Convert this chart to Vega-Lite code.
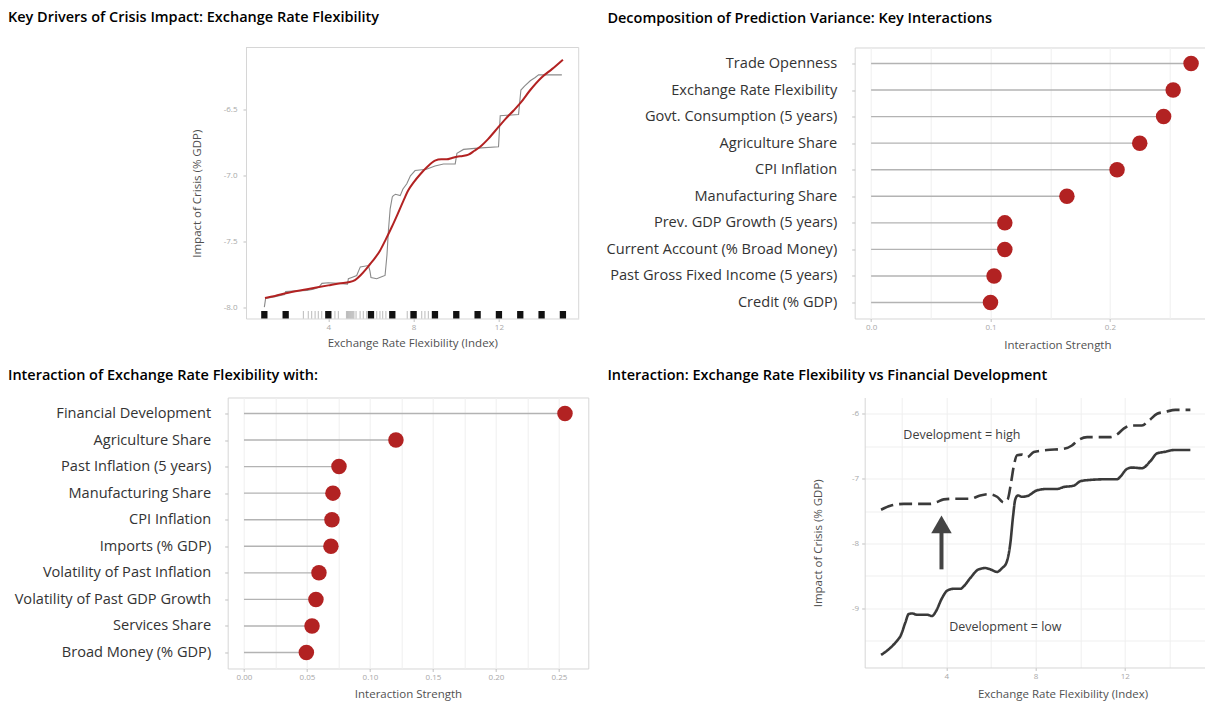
{
  "$schema": "https://vega.github.io/schema/vega-lite/v6.json",
  "autosize": {"type": "none"},
  "padding": {"left": 227.7, "top": 47.5, "right": 980, "bottom": 660},
  "background": "#ffffff",
  "columns": 2,
  "bounds": "flush",
  "align": "each",
  "spacing": {"row": 79, "column": 266},
  "config": {
    "font": "Open Sans",
    "locale": {"number": {"decimal": ".", "thousands": ",", "grouping": [3], "currency": ["$", ""], "minus": "-"}},
    "view": {"stroke": "#d6d6d6"},
    "axis": {"gridColor": "#efefef", "gridWidth": 1, "domain": false, "domainColor": "#d6d6d6", "tickColor": "#c0c0c0", "tickSize": 3, "labelColor": "#a8a8a8", "labelFontSize": 8, "labelPadding": 2, "titleColor": "#505050", "titleFontSize": 11.5, "titleFontWeight": "normal"},
    "title": {"anchor": "start", "frame": "group", "fontSize": 14.5, "fontWeight": 600, "color": "#000000", "offset": 0, "baseline": "middle"}
  },
  "datasets": {
    "border": [{}],
    "pdp": [
      {"x": 1.0, "y": -7.995}, {"x": 1.06, "y": -7.93}, {"x": 1.5, "y": -7.915}, {"x": 1.95, "y": -7.9}, {"x": 2.0, "y": -7.876},
      {"x": 2.5, "y": -7.872}, {"x": 3.0, "y": -7.868}, {"x": 3.3, "y": -7.86}, {"x": 3.55, "y": -7.845}, {"x": 3.7, "y": -7.815},
      {"x": 4.0, "y": -7.81}, {"x": 4.5, "y": -7.815}, {"x": 4.9, "y": -7.82}, {"x": 4.94, "y": -7.78}, {"x": 5.1, "y": -7.77},
      {"x": 5.33, "y": -7.755}, {"x": 5.5, "y": -7.69}, {"x": 5.88, "y": -7.68}, {"x": 5.95, "y": -7.72}, {"x": 6.0, "y": -7.77},
      {"x": 6.27, "y": -7.78}, {"x": 6.5, "y": -7.765}, {"x": 6.66, "y": -7.755}, {"x": 6.75, "y": -7.6}, {"x": 6.82, "y": -7.41},
      {"x": 6.9, "y": -7.25}, {"x": 7.0, "y": -7.16}, {"x": 7.05, "y": -7.15}, {"x": 7.15, "y": -7.14}, {"x": 7.37, "y": -7.15},
      {"x": 7.5, "y": -7.1}, {"x": 7.68, "y": -7.06}, {"x": 7.85, "y": -7.0}, {"x": 8.07, "y": -6.96}, {"x": 8.6, "y": -6.95},
      {"x": 9.0, "y": -6.925}, {"x": 9.4, "y": -6.91}, {"x": 9.95, "y": -6.91}, {"x": 10.03, "y": -6.83}, {"x": 10.34, "y": -6.8},
      {"x": 11.0, "y": -6.79}, {"x": 11.98, "y": -6.78}, {"x": 12.06, "y": -6.545}, {"x": 12.92, "y": -6.535}, {"x": 13.03, "y": -6.35},
      {"x": 13.2, "y": -6.32}, {"x": 13.47, "y": -6.28}, {"x": 13.7, "y": -6.255}, {"x": 13.86, "y": -6.235}, {"x": 14.95, "y": -6.235}
    ],
    "smooth": [
      {"x": 1.03, "y": -7.925}, {"x": 1.5, "y": -7.91}, {"x": 2.0, "y": -7.89}, {"x": 3.0, "y": -7.86}, {"x": 4.0, "y": -7.83},
      {"x": 4.5, "y": -7.815}, {"x": 5.0, "y": -7.805}, {"x": 5.25, "y": -7.79}, {"x": 5.5, "y": -7.755}, {"x": 5.75, "y": -7.71},
      {"x": 5.95, "y": -7.67}, {"x": 6.2, "y": -7.62}, {"x": 6.43, "y": -7.565}, {"x": 6.7, "y": -7.48}, {"x": 6.97, "y": -7.39},
      {"x": 7.25, "y": -7.29}, {"x": 7.52, "y": -7.19}, {"x": 7.75, "y": -7.11}, {"x": 8.0, "y": -7.05}, {"x": 8.3, "y": -6.99},
      {"x": 8.62, "y": -6.935}, {"x": 9.0, "y": -6.885}, {"x": 9.3, "y": -6.875}, {"x": 9.55, "y": -6.875}, {"x": 9.8, "y": -6.865},
      {"x": 10.03, "y": -6.855}, {"x": 10.3, "y": -6.85}, {"x": 10.57, "y": -6.84}, {"x": 10.85, "y": -6.81}, {"x": 11.12, "y": -6.78},
      {"x": 11.5, "y": -6.72}, {"x": 11.98, "y": -6.63}, {"x": 12.3, "y": -6.57}, {"x": 12.69, "y": -6.505}, {"x": 13.0, "y": -6.45},
      {"x": 13.47, "y": -6.35}, {"x": 14.0, "y": -6.255}, {"x": 14.5, "y": -6.19}, {"x": 15.0, "y": -6.12}
    ],
    "rugThick": [
      {"x": 1}, {"x": 2}, {"x": 4}, {"x": 6}, {"x": 7}, {"x": 8}, {"x": 9}, {"x": 10}, {"x": 11}, {"x": 12}, {"x": 13}, {"x": 14}, {"x": 15}
    ],
    "rugThin": [
      {"x": 2.83}, {"x": 3.06}, {"x": 3.22}, {"x": 3.38}, {"x": 3.53}, {"x": 3.69}, {"x": 4.31}, {"x": 4.47}, {"x": 4.85}, {"x": 4.9},
      {"x": 4.95}, {"x": 5.0}, {"x": 5.05}, {"x": 5.1}, {"x": 5.15}, {"x": 5.2}, {"x": 5.3}, {"x": 5.49}, {"x": 5.64}, {"x": 5.8},
      {"x": 6.27}, {"x": 6.42}, {"x": 6.55}, {"x": 6.7}, {"x": 7.7}, {"x": 7.85}, {"x": 8.38}, {"x": 8.53}, {"x": 8.69}
    ],
    "inter2": [
      {"name": "Trade Openness", "value": 0.268},
      {"name": "Exchange Rate Flexibility", "value": 0.253},
      {"name": "Govt. Consumption (5 years)", "value": 0.245},
      {"name": "Agriculture Share", "value": 0.225},
      {"name": "CPI Inflation", "value": 0.206},
      {"name": "Manufacturing Share", "value": 0.164},
      {"name": "Prev. GDP Growth (5 years)", "value": 0.112},
      {"name": "Current Account (% Broad Money)", "value": 0.112},
      {"name": "Past Gross Fixed Income (5 years)", "value": 0.103},
      {"name": "Credit (% GDP)", "value": 0.1}
    ],
    "inter3": [
      {"name": "Financial Development", "value": 0.2548},
      {"name": "Agriculture Share", "value": 0.1206},
      {"name": "Past Inflation (5 years)", "value": 0.0754},
      {"name": "Manufacturing Share", "value": 0.0706},
      {"name": "CPI Inflation", "value": 0.0698},
      {"name": "Imports (% GDP)", "value": 0.069},
      {"name": "Volatility of Past Inflation", "value": 0.0595},
      {"name": "Volatility of Past GDP Growth", "value": 0.0571},
      {"name": "Services Share", "value": 0.054},
      {"name": "Broad Money (% GDP)", "value": 0.0495}
    ],
    "dev": [
      {"series": "low", "x": 1.07, "y": -9.72}, {"series": "low", "x": 1.49, "y": -9.61}, {"series": "low", "x": 1.79, "y": -9.5},
      {"series": "low", "x": 1.94, "y": -9.43}, {"series": "low", "x": 2.16, "y": -9.22}, {"series": "low", "x": 2.31, "y": -9.09},
      {"series": "low", "x": 2.46, "y": -9.08}, {"series": "low", "x": 2.68, "y": -9.1}, {"series": "low", "x": 3.13, "y": -9.1},
      {"series": "low", "x": 3.36, "y": -9.12}, {"series": "low", "x": 3.51, "y": -9.06}, {"series": "low", "x": 3.81, "y": -8.84},
      {"series": "low", "x": 4.03, "y": -8.73}, {"series": "low", "x": 4.33, "y": -8.7}, {"series": "low", "x": 4.63, "y": -8.7},
      {"series": "low", "x": 4.78, "y": -8.66}, {"series": "low", "x": 5.08, "y": -8.53}, {"series": "low", "x": 5.45, "y": -8.4},
      {"series": "low", "x": 5.75, "y": -8.38}, {"series": "low", "x": 5.97, "y": -8.4}, {"series": "low", "x": 6.27, "y": -8.44},
      {"series": "low", "x": 6.5, "y": -8.38}, {"series": "low", "x": 6.69, "y": -8.3}, {"series": "low", "x": 6.87, "y": -7.99},
      {"series": "low", "x": 6.99, "y": -7.58}, {"series": "low", "x": 7.09, "y": -7.32}, {"series": "low", "x": 7.21, "y": -7.26},
      {"series": "low", "x": 7.39, "y": -7.28}, {"series": "low", "x": 7.62, "y": -7.27}, {"series": "low", "x": 8.07, "y": -7.18},
      {"series": "low", "x": 8.51, "y": -7.16}, {"series": "low", "x": 8.96, "y": -7.16}, {"series": "low", "x": 9.26, "y": -7.13},
      {"series": "low", "x": 9.71, "y": -7.11}, {"series": "low", "x": 10.01, "y": -7.04}, {"series": "low", "x": 10.46, "y": -7.02},
      {"series": "low", "x": 11.2, "y": -7.01}, {"series": "low", "x": 11.65, "y": -7.01}, {"series": "low", "x": 11.8, "y": -6.97},
      {"series": "low", "x": 12.1, "y": -6.85}, {"series": "low", "x": 12.33, "y": -6.83}, {"series": "low", "x": 12.77, "y": -6.84},
      {"series": "low", "x": 13.15, "y": -6.73}, {"series": "low", "x": 13.45, "y": -6.61}, {"series": "low", "x": 13.75, "y": -6.59},
      {"series": "low", "x": 14.19, "y": -6.56}, {"series": "low", "x": 14.94, "y": -6.56},
      {"series": "high", "x": 1.07, "y": -7.48}, {"series": "high", "x": 1.49, "y": -7.42}, {"series": "high", "x": 2.09, "y": -7.39},
      {"series": "high", "x": 2.68, "y": -7.39}, {"series": "high", "x": 3.28, "y": -7.39}, {"series": "high", "x": 3.58, "y": -7.36},
      {"series": "high", "x": 3.88, "y": -7.32}, {"series": "high", "x": 4.48, "y": -7.31}, {"series": "high", "x": 5.08, "y": -7.31},
      {"series": "high", "x": 5.52, "y": -7.26}, {"series": "high", "x": 5.9, "y": -7.24}, {"series": "high", "x": 6.27, "y": -7.28},
      {"series": "high", "x": 6.57, "y": -7.37}, {"series": "high", "x": 6.75, "y": -7.32}, {"series": "high", "x": 6.9, "y": -7.06},
      {"series": "high", "x": 7.02, "y": -6.81}, {"series": "high", "x": 7.17, "y": -6.64}, {"series": "high", "x": 7.39, "y": -6.63},
      {"series": "high", "x": 7.62, "y": -6.67}, {"series": "high", "x": 7.92, "y": -6.59}, {"series": "high", "x": 8.51, "y": -6.56},
      {"series": "high", "x": 9.26, "y": -6.54}, {"series": "high", "x": 9.63, "y": -6.49}, {"series": "high", "x": 9.86, "y": -6.42},
      {"series": "high", "x": 10.31, "y": -6.36}, {"series": "high", "x": 11.35, "y": -6.36}, {"series": "high", "x": 11.65, "y": -6.32},
      {"series": "high", "x": 11.95, "y": -6.23}, {"series": "high", "x": 12.25, "y": -6.18}, {"series": "high", "x": 12.77, "y": -6.18},
      {"series": "high", "x": 13.07, "y": -6.11}, {"series": "high", "x": 13.45, "y": -6.0}, {"series": "high", "x": 13.82, "y": -5.97},
      {"series": "high", "x": 14.27, "y": -5.94}, {"series": "high", "x": 14.94, "y": -5.94}
    ],
    "notes": [
      {"x": 2.07, "y": -6.334, "label": "Development = high"},
      {"x": 4.13, "y": -9.293, "label": "Development = low"}
    ],
    "arrowStem": [{"x": 3.78, "y": -8.4, "y2": -7.8}],
    "arrowHead": [{"x": 3.78, "y": -7.706}]
  },
  "concat": [
    {
      "title": {"text": "Key Drivers of Crisis Impact: Exchange Rate Flexibility", "dx": -219.7, "dy": -17.5},
      "width": 351,
      "height": 271,
      "view": {"stroke": null},
      "layer": [
        {"data": {"name": "border"}, "mark": {"type": "rule", "color": "#d6d6d6", "strokeWidth": 1},
          "encoding": {"x": {"datum": 0.14, "type": "quantitative"}, "x2": {"datum": 15.74}, "y": {"datum": -6.028, "type": "quantitative"}}},
        {"data": {"name": "border"}, "mark": {"type": "rule", "color": "#d6d6d6", "strokeWidth": 1},
          "encoding": {"x": {"datum": 15.74, "type": "quantitative"}, "y": {"datum": -8.081, "type": "quantitative"}, "y2": {"datum": -6.028}}},
        {"data": {"name": "rugThin"}, "mark": {"type": "tick", "orient": "vertical", "color": "#777777", "size": 7.5, "thickness": 1, "opacity": 0.5},
          "encoding": {"x": {"field": "x", "type": "quantitative"}, "y": {"datum": -8.0525, "type": "quantitative"}}},
        {"data": {"name": "rugThick"}, "mark": {"type": "tick", "orient": "vertical", "color": "#111111", "size": 7.5, "thickness": 6.3, "opacity": 1},
          "encoding": {"x": {"field": "x", "type": "quantitative"}, "y": {"datum": -8.0525, "type": "quantitative"}}},
        {"data": {"name": "pdp"}, "mark": {"type": "line", "color": "#8a8a8a", "strokeWidth": 1.1},
          "encoding": {
            "x": {"field": "x", "type": "quantitative",
              "scale": {"domain": [0.14, 15.74], "range": [18.3, 351], "nice": false, "zero": false},
              "axis": {"title": "Exchange Rate Flexibility (Index)", "values": [2, 4, 6, 8, 10, 12, 14],
                "labelExpr": "datum.value % 4 === 0 ? datum.label : ''",
                "tickOpacity": {"condition": {"test": "datum.value % 4 === 0", "value": 1}, "value": 0},
                "domain": true, "titleY": 25.3, "titleBaseline": "middle"}},
            "y": {"field": "y", "type": "quantitative",
              "scale": {"domain": [-8.081, -6.028], "nice": false, "zero": false},
              "axis": {"title": "Impact of Crisis (% GDP)", "values": [-8, -7.75, -7.5, -7.25, -7, -6.75, -6.5, -6.25], "format": ".1f",
                "labelExpr": "abs(datum.value * 2 - round(datum.value * 2)) < 0.001 ? datum.label : ''",
                "tickOpacity": {"condition": {"test": "abs(datum.value * 2 - round(datum.value * 2)) < 0.001", "value": 1}, "value": 0},
                "offset": -18.3, "domain": true, "labelPadding": 6, "titleX": -43, "titleY": 145.7, "titleBaseline": "bottom"}}
          }},
        {"data": {"name": "smooth"}, "mark": {"type": "line", "color": "#b22222", "strokeWidth": 2, "interpolate": "monotone"},
          "encoding": {"x": {"field": "x", "type": "quantitative"}, "y": {"field": "y", "type": "quantitative"}}}
      ]
    },
    {
      "title": {"text": "Decomposition of Prediction Variance: Key Interactions", "dx": -247.3, "dy": -17.5},
      "width": 405.4,
      "height": 271,
      "data": {"name": "inter2"},
      "encoding": {
        "y": {"field": "name", "type": "nominal", "sort": null, "scale": {"type": "point", "padding": 0.6},
          "axis": {"title": null, "labelFontSize": 14.6, "labelColor": "#333333", "labelPadding": 15, "tickSize": 3, "labelLimit": 400}},
        "x": {"field": "value", "type": "quantitative",
          "scale": {"domain": [-0.01374, 0.3258], "nice": false, "zero": false},
          "axis": {"title": "Interaction Strength", "values": [0, 0.05, 0.1, 0.15, 0.2, 0.25],
            "labelExpr": "abs(datum.value * 10 - round(datum.value * 10)) < 0.000001 ? format(datum.value, '.1f') : ''",
            "tickOpacity": {"condition": {"test": "abs(datum.value * 10 - round(datum.value * 10)) < 0.000001", "value": 1}, "value": 0},
            "titleY": 26.7, "titleBaseline": "middle"}}
      },
      "layer": [
        {"mark": {"type": "rule", "color": "#b3b3b3", "strokeWidth": 1.4}, "encoding": {"x2": {"datum": 0}}},
        {"mark": {"type": "point", "filled": true, "color": "#b22222", "size": 240, "opacity": 1}}
      ]
    },
    {
      "title": {"text": "Interaction of Exchange Rate Flexibility with:", "dx": -219.7, "dy": -9.5},
      "width": 360.6,
      "height": 271,
      "data": {"name": "inter3"},
      "encoding": {
        "y": {"field": "name", "type": "nominal", "sort": null, "scale": {"type": "point", "padding": 0.6},
          "axis": {"title": null, "labelFontSize": 14.6, "labelColor": "#333333", "labelPadding": 14, "tickSize": 3, "labelLimit": 400}},
        "x": {"field": "value", "type": "quantitative",
          "scale": {"domain": [-0.01294, 0.2733], "nice": false, "zero": false},
          "axis": {"title": "Interaction Strength", "values": [0, 0.025, 0.05, 0.075, 0.1, 0.125, 0.15, 0.175, 0.2, 0.225, 0.25],
            "labelExpr": "abs(datum.value * 20 - round(datum.value * 20)) < 0.000001 ? format(datum.value, '.2f') : ''",
            "tickOpacity": {"condition": {"test": "abs(datum.value * 20 - round(datum.value * 20)) < 0.000001", "value": 1}, "value": 0},
            "titleY": 25.7, "titleBaseline": "middle"}}
      },
      "layer": [
        {"mark": {"type": "rule", "color": "#b3b3b3", "strokeWidth": 1.4}, "encoding": {"x2": {"datum": 0}}},
        {"mark": {"type": "point", "filled": true, "color": "#b22222", "size": 240, "opacity": 1}}
      ]
    },
    {
      "title": {"text": "Interaction: Exchange Rate Flexibility vs Financial Development", "dx": -247.3, "dy": -9.5},
      "width": 405.7,
      "height": 270,
      "view": {"stroke": null},
      "encoding": {
        "x": {"field": "x", "type": "quantitative",
          "scale": {"domain": [0.3363, 18.08], "range": [10, 405.7], "nice": false, "zero": false},
          "axis": {"title": "Exchange Rate Flexibility (Index)", "values": [2, 4, 6, 8, 10, 12, 14],
            "labelExpr": "datum.value % 4 === 0 ? datum.label : ''",
            "tickOpacity": {"condition": {"test": "datum.value % 4 === 0", "value": 1}, "value": 0},
            "domain": true, "titleY": 26.7, "titleBaseline": "middle"}},
        "y": {"field": "y", "type": "quantitative",
          "scale": {"domain": [-9.914, -5.749], "nice": false, "zero": false},
          "axis": {"title": "Impact of Crisis (% GDP)", "values": [-9.5, -9, -8.5, -8, -7.5, -7, -6.5, -6], "format": ".0f",
            "labelExpr": "datum.value % 1 === 0 ? datum.label : ''",
            "tickOpacity": {"condition": {"test": "datum.value % 1 === 0", "value": 1}, "value": 0},
            "offset": -10, "domain": true, "labelPadding": 3, "titleX": -41, "titleY": 145.3, "titleBaseline": "bottom"}}
      },
      "layer": [
        {"data": {"name": "dev"}, "mark": {"type": "line", "color": "#3a3a3a", "strokeWidth": 2.6, "interpolate": "monotone", "strokeCap": "butt"},
          "encoding": {"strokeDash": {"field": "series", "type": "nominal", "scale": {"domain": ["low", "high"], "range": [[1, 0], [13, 6]]}, "legend": null}}},
        {"data": {"name": "notes"}, "mark": {"type": "text", "align": "left", "baseline": "middle", "fontSize": 12.5, "color": "#404040"},
          "encoding": {"text": {"field": "label"}}},
        {"data": {"name": "arrowStem"}, "mark": {"type": "rule", "color": "#444444", "strokeWidth": 4},
          "encoding": {"y2": {"field": "y2"}}},
        {"data": {"name": "arrowHead"}, "mark": {"type": "point", "shape": "triangle-up", "filled": true, "color": "#444444", "size": 420, "opacity": 1}}
      ]
    }
  ]
}
